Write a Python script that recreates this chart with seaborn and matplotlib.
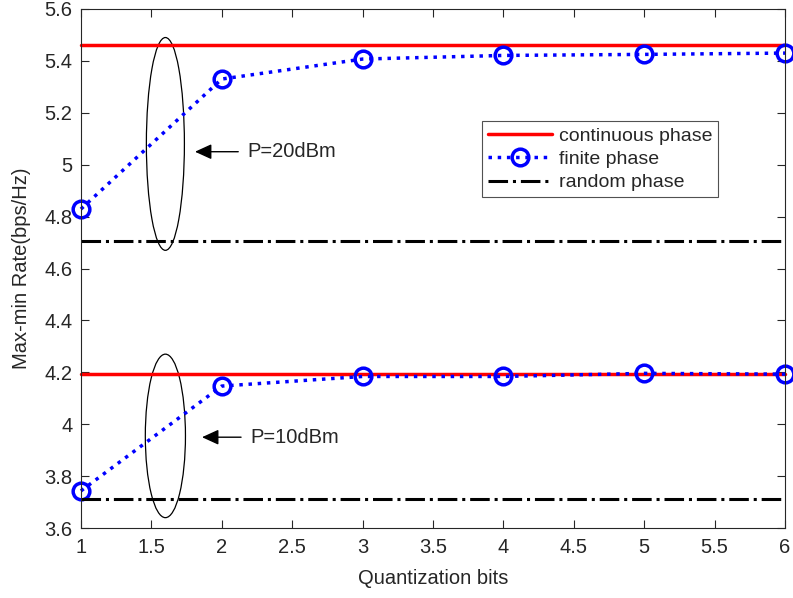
import numpy as np
import pandas as pd
import matplotlib
matplotlib.use("Agg")
import matplotlib.pyplot as plt
import seaborn as sns
from matplotlib.patches import Ellipse

# data
bits = [1, 2, 3, 4, 5, 6]
finite_20 = [4.829, 5.330, 5.407, 5.421, 5.425, 5.430]
finite_10 = [3.743, 4.147, 4.184, 4.184, 4.196, 4.193]
continuous_20 = 5.461
continuous_10 = 4.192
random_20 = 4.705
random_10 = 3.710

sns.set_theme(style="ticks")
plt.rcParams['font.family'] = ['Liberation Sans', 'DejaVu Sans']

fig = plt.figure(figsize=(7.93, 5.98), dpi=100)
ax = fig.add_axes([0.102, 0.117, 0.888, 0.868])

rows = []
for p, fin, cont, rnd in [("20", finite_20, continuous_20, random_20),
                          ("10", finite_10, continuous_10, random_10)]:
    for b, v in zip(bits, fin):
        rows.append({"bits": b, "rate": v, "series": "finite phase", "P": p})
        rows.append({"bits": b, "rate": cont, "series": "continuous phase", "P": p})
        rows.append({"bits": b, "rate": rnd, "series": "random phase", "P": p})
df = pd.DataFrame(rows)

styles = {
    "continuous phase": dict(color="#ff0000", linestyle="-", lw=2.5, marker=None),
    "finite phase": dict(color="#0000ff", linestyle=":", lw=2.5, marker="o",
                         markersize=12, markerfacecolor="none",
                         markeredgecolor="#0000ff", markeredgewidth=2.5),
    "random phase": dict(color="black", linestyle="-.", lw=2.2, marker=None),
}

handles = {}
for p in ["20", "10"]:
    for s in ["continuous phase", "finite phase", "random phase"]:
        sub = df[(df["P"] == p) & (df["series"] == s)]
        st = dict(styles[s])
        mk = st.pop("marker")
        sns.lineplot(data=sub, x="bits", y="rate", ax=ax, marker=mk,
                     legend=False, label=None, **st)
        handles[s] = ax.lines[-1]
        ax.lines[-1].set_clip_on(False)

ax.set_xlim(1, 6)
ax.set_ylim(3.6, 5.6)
ax.set_xticks(np.arange(1, 6.01, 0.5))
ax.set_xticklabels(["1", "1.5", "2", "2.5", "3", "3.5", "4", "4.5", "5", "5.5", "6"])
ax.set_yticks(np.arange(3.6, 5.61, 0.2))
ax.set_yticklabels(["3.6", "3.8", "4", "4.2", "4.4", "4.6", "4.8", "5", "5.2", "5.4", "5.6"])
ax.tick_params(which="major", direction="in", length=6, width=0.8, color="#262626",
               labelcolor="#262626", labelsize=14.5,
               top=True, right=True, bottom=True, left=True)
ax.tick_params(axis="x", pad=7)
ax.tick_params(axis="y", pad=6)
for sp in ax.spines.values():
    sp.set_visible(True)
    sp.set_color("#262626")
    sp.set_linewidth(0.8)
ax.set_xlabel("Quantization bits", fontsize=14.5, color="#262626", labelpad=9)
ax.set_ylabel("Max-min Rate(bps/Hz)", fontsize=14.5, color="#262626", labelpad=10)

# ellipses and annotations
ax.add_patch(Ellipse((1.6, 5.08), 0.27, 0.82, fill=False, edgecolor="black", lw=0.9))
ax.add_patch(Ellipse((1.6, 3.955), 0.285, 0.63, fill=False, edgecolor="black", lw=0.9))
arrow = dict(arrowstyle="-|>,head_length=0.7,head_width=0.32", color="black",
             lw=1.0, shrinkB=0, shrinkA=4)
ax.annotate("P=20dBm", xy=(1.81, 5.05), xytext=(2.18, 5.05), fontsize=14.5,
            va="center", ha="left", arrowprops=arrow)
ax.annotate("P=10dBm", xy=(1.86, 3.95), xytext=(2.2, 3.95), fontsize=14.5,
            va="center", ha="left", arrowprops=arrow)

leg = ax.legend([handles["continuous phase"], handles["finite phase"], handles["random phase"]],
                ["continuous phase", "finite phase", "random phase"],
                loc="upper left", bbox_to_anchor=(0.570, 0.784), fontsize=14,
                frameon=True, fancybox=False, edgecolor="#262626",
                handlelength=3.3, borderpad=0.3, labelspacing=0.3,
                handletextpad=0.35, borderaxespad=0)
leg.get_frame().set_linewidth(0.8)

fig.savefig("out.png", dpi=100)
